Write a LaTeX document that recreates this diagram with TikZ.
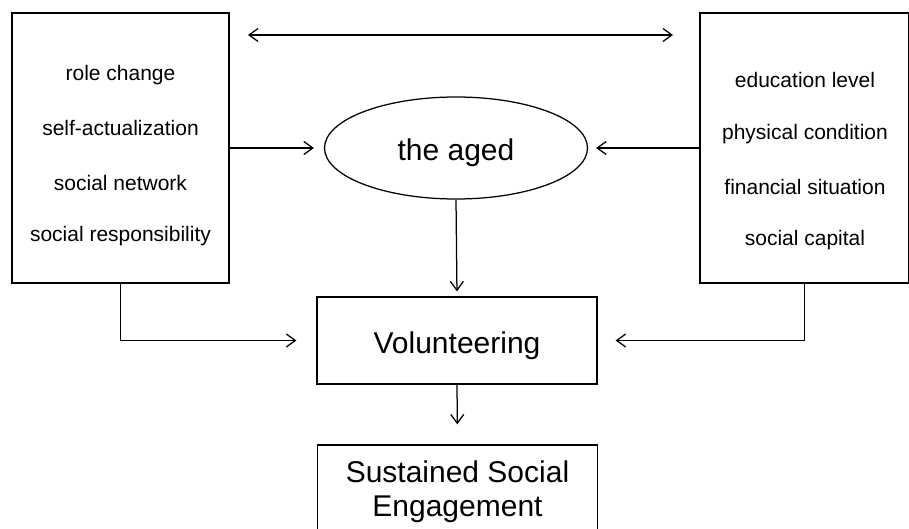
\documentclass[tikz,border=0pt]{standalone}
\usepackage{fontspec}
\setmainfont{Liberation Sans}
\usetikzlibrary{arrows.meta,shapes.geometric}
\begin{document}
\begin{tikzpicture}[x=1pt,y=-1pt,
  line width=1.25pt,
  arr/.style={-{Straight Barb[length=9pt,width=13pt]}},
  darr/.style={{Straight Barb[length=9pt,width=13pt]}-{Straight Barb[length=9pt,width=13pt]}},
  bigbox/.style={draw,rectangle,inner sep=0pt},
  small/.style={font=\fontsize{21}{25}\selectfont,inner sep=0pt},
  big/.style={font=\fontsize{30}{36}\selectfont,inner sep=0pt}]
\useasboundingbox (0,0) rectangle (909,529);
\fill[white] (0,0) rectangle (909,529);
% left factors box
\node[bigbox,minimum width=217pt,minimum height=270pt] (L) at (120.5,148) {};
\node[small] (l1) at (120.5,75) {role change};
\node[small] (l2) at (120.5,128) {self-actualization};
\node[small] (l3) at (120.5,183) {social network};
\node[small] (l4) at (120.5,236) {social responsibility};
% right factors box
\node[bigbox,minimum width=209pt,minimum height=270pt] (R) at (804.5,148) {};
\node[small] (r1) at (805,80) {education level};
\node[small] (r2) at (805,134) {physical condition};
\node[small] (r3) at (805,187) {financial situation};
\node[small] (r4) at (805,240) {social capital};
% ellipse
\node[draw,ellipse,minimum width=263pt,minimum height=102pt,inner sep=0pt] (A) at (456,148) {};
\node[big] (At) at (456,153) {the aged};
% volunteering
\node[bigbox,minimum width=280pt,minimum height=87pt] (V) at (457,340.5) {};
\node[big] (Vt) at (457,346) {Volunteering};
% sustained
\node[bigbox,minimum width=280pt,minimum height=100pt] (S) at (457.5,495) {};
\node[big] (s1) at (457.5,472) {Sustained Social};
\node[big] (s2) at (457.5,509) {Engagement};
% top double arrow
\coordinate (t1) at (248,35);
\coordinate (t2) at (673,35);
\draw[darr] (t1) -- (t2);
% arrows
\draw[arr,shorten >=10pt] (L.east |- A.west) -- (A.west);
\draw[arr,shorten >=8pt] (R.west |- A.east) -- (A.east);
\draw[arr,shorten >=5pt] (A.south) -- (V.north);
\draw[arr,shorten >=20pt] (V.south) -- (S.north);
\draw[arr,shorten >=20pt] (L.south) |- (V.west);
\draw[arr,shorten >=18pt] (R.south) |- (V.east);
\end{tikzpicture}
\end{document}
